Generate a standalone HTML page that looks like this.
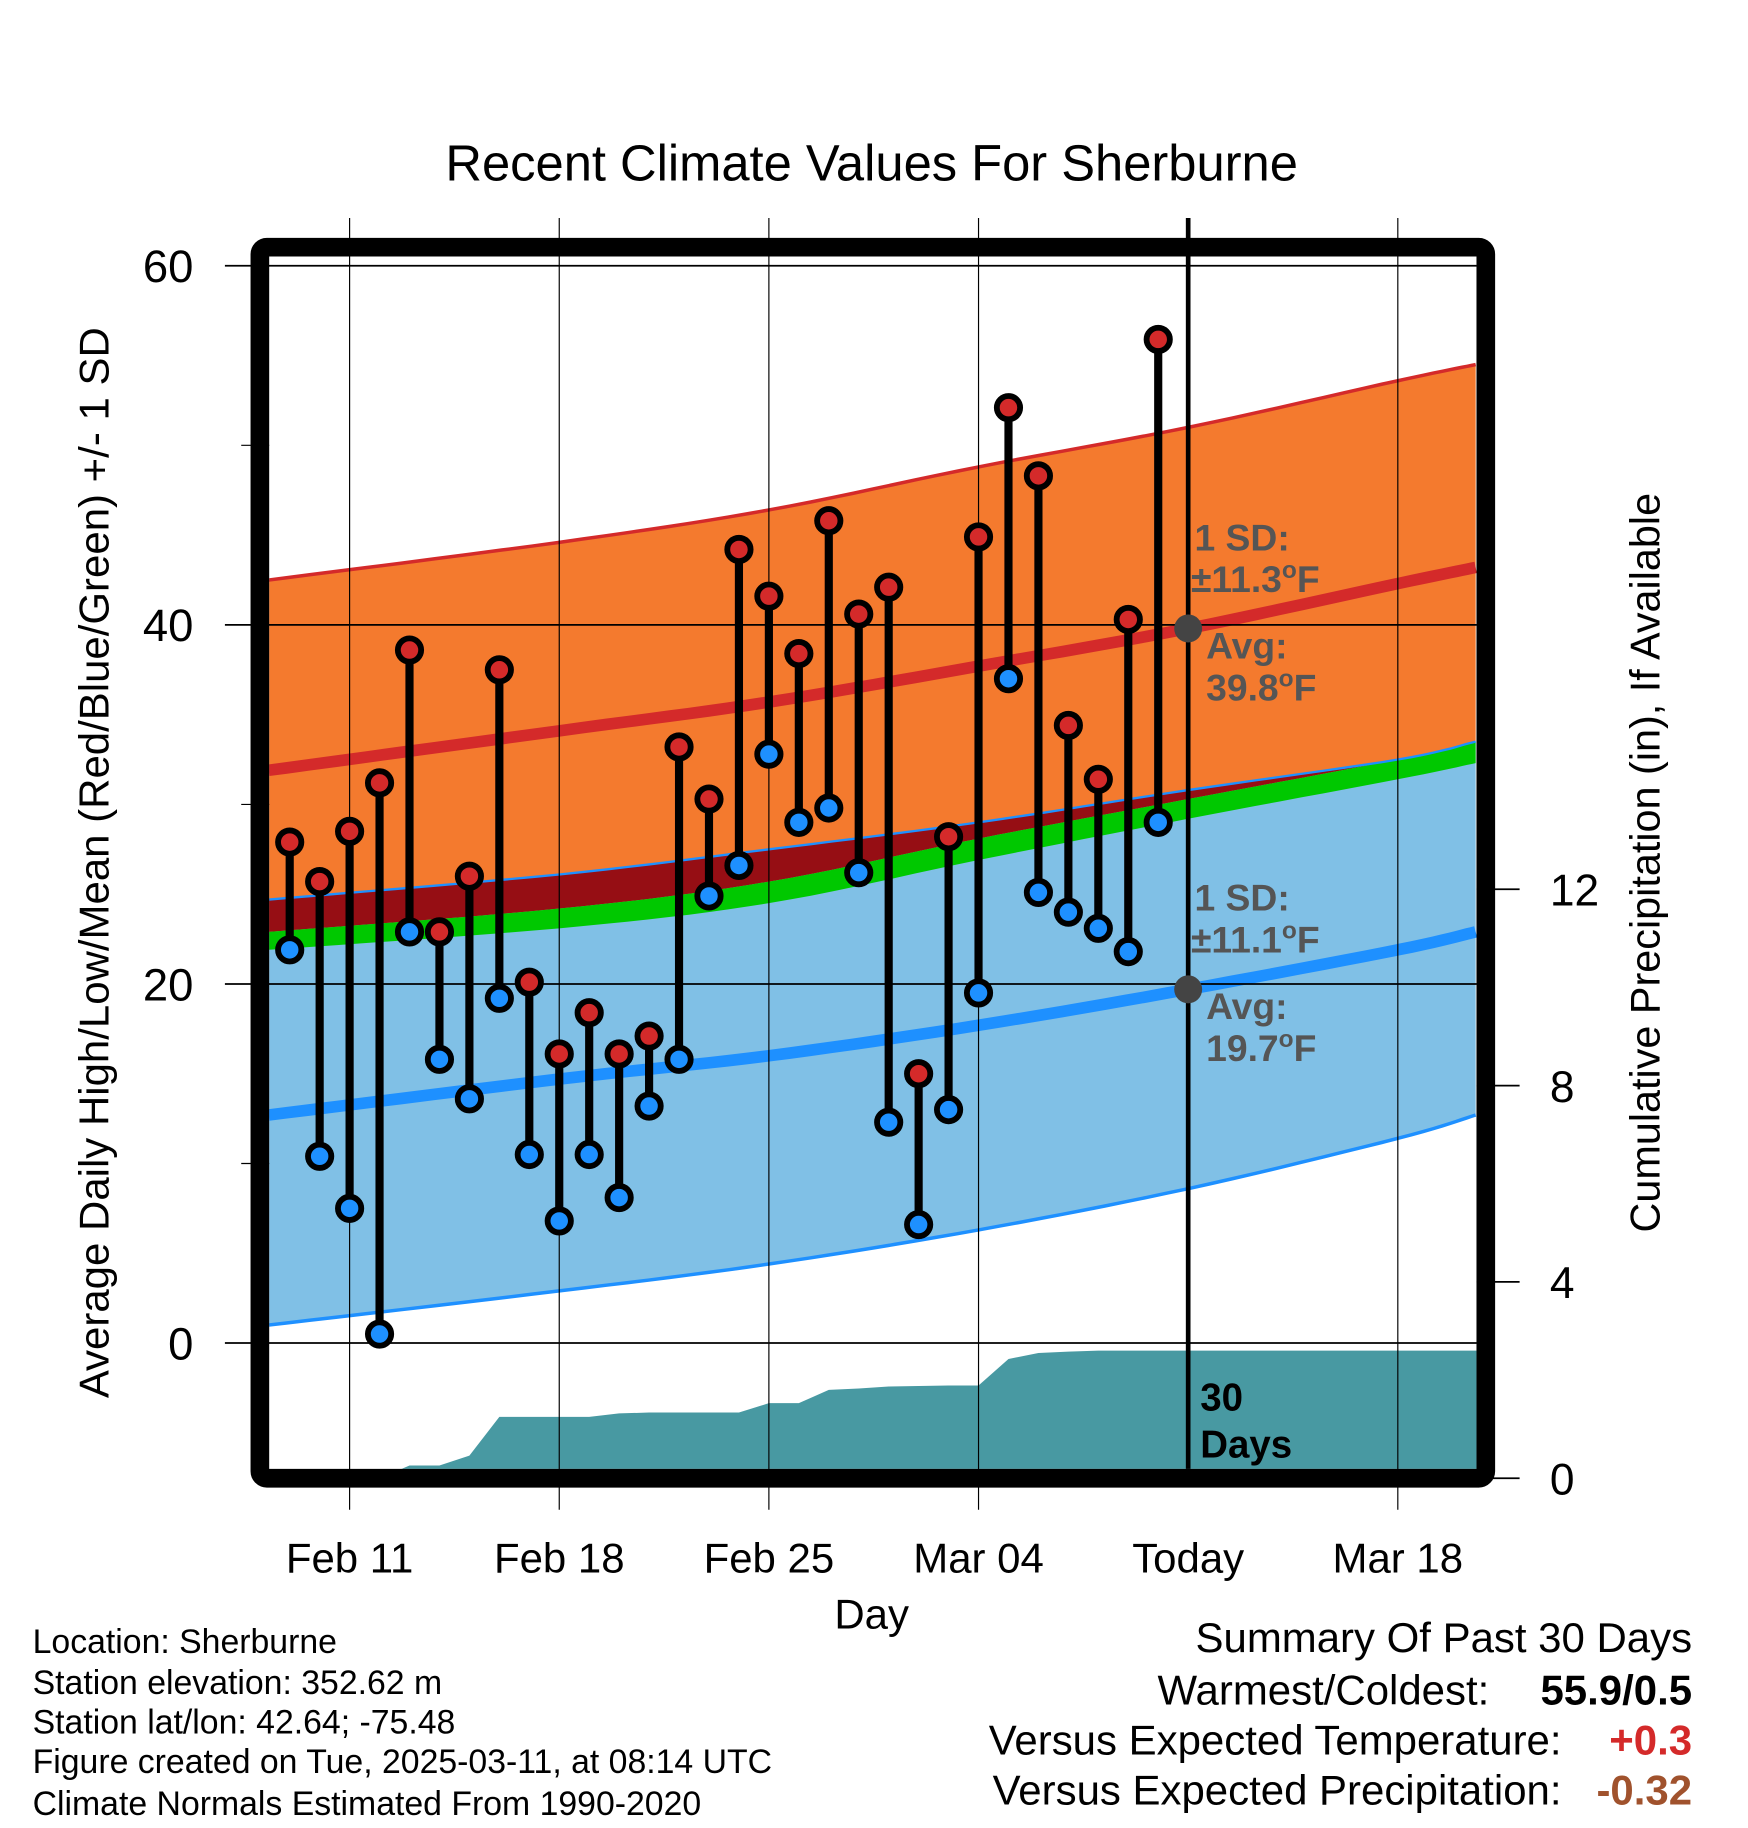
<!DOCTYPE html>
<html><head><meta charset="utf-8"><style>
html,body{margin:0;padding:0;background:#fff;}
svg{display:block;font-family:"Liberation Sans",sans-serif;}
</style></head><body>
<svg id="chart" xmlns="http://www.w3.org/2000/svg" width="1748" height="1828" viewBox="0 0 1500 1568" preserveAspectRatio="none">
<rect x="0" y="0" width="1500" height="1568" fill="#fff"/>
<text x="748" y="155" font-size="43.5" text-anchor="middle">Recent Climate Values For Sherburne</text>
<g id="layers"></g>
<text transform="translate(93,740) rotate(-90)" font-size="36" text-anchor="middle">Average Daily High/Low/Mean (Red/Blue/Green) +/- 1 SD</text>
<text transform="translate(1424,740) rotate(-90)" font-size="35.5" text-anchor="middle">Cumulative Precipitation (in), If Available</text>
<text x="748" y="1397" font-size="36" text-anchor="middle">Day</text>
<g font-size="29">
<text x="28" y="1418">Location: Sherburne</text>
<text x="28" y="1453">Station elevation: 352.62 m</text>
<text x="28" y="1487">Station lat/lon: 42.64; -75.48</text>
<text x="28" y="1521">Figure created on Tue, 2025-03-11, at 08:14 UTC</text>
<text x="28" y="1557">Climate Normals Estimated From 1990-2020</text>
</g>
<g font-size="36" text-anchor="end">
<text x="1452" y="1417">Summary Of Past 30 Days</text>
<text x="1278" y="1462">Warmest/Coldest:</text>
<text x="1452" y="1462" font-weight="bold">55.9/0.5</text>
<text x="1340" y="1505">Versus Expected Temperature:</text>
<text x="1452" y="1505" font-weight="bold" fill="#d42a2a">+0.3</text>
<text x="1340" y="1548">Versus Expected Precipitation:</text>
<text x="1452" y="1548" font-weight="bold" fill="#a0522d">-0.32</text>
</g>
</svg>
<script>
// day offsets relative to Feb 11 (0) ; observations Feb 9 .. Mar 10
const obsDays = [-2,-1,0,1,2,3,4,5,6,7,8,9,10,11,12,13,14,15,16,17,18,19,20,21,22,23,24,25,26,27];
const highs = [27.9,25.7,28.5,31.2,38.6,22.9,26.0,37.5,20.1,16.1,18.4,16.1,17.1,33.2,30.3,44.2,41.6,38.4,45.8,40.6,42.1,15.0,28.2,44.9,52.1,48.3,34.4,31.4,40.3,55.9];
const lows = [21.9,10.4,7.5,0.5,22.9,15.8,13.6,19.2,10.5,6.8,10.5,8.1,13.2,15.8,24.9,26.6,32.8,29.0,29.8,26.2,12.3,6.6,13.0,19.5,37.0,25.1,24.0,23.1,21.8,29.0];
const precip = [0,0,0,0,0.26,0.26,0.46,1.25,1.25,1.25,1.25,1.32,1.34,1.34,1.34,1.34,1.53,1.53,1.80,1.83,1.87,1.88,1.89,1.89,2.43,2.55,2.58,2.60,2.60,2.60];
// normals
const normDays = [-2.7,7,14,21,28,35,37.6];
const normUpper = [42.5,44.6,46.4,48.8,51.0,53.6,54.5];
const normAvgHi = [31.9,34.1,35.7,37.7,39.8,42.3,43.2];
const normLoPlus = [24.7,26.1,27.5,29.0,30.8,32.5,33.5];
const normMeanTop = [22.9,24.2,25.7,28.1,30.3,32.5,33.5];
const normMeanBot = [21.9,23.1,24.5,26.9,29.2,31.4,32.3];
const normAvgLo = [12.7,14.7,16.0,17.7,19.7,21.9,22.9];
const normLoMinus = [1.0,2.9,4.4,6.3,8.6,11.4,12.7];
const xTickDays = [0,7,14,21,28,35];
const xTickLabels = ["Feb 11","Feb 18","Feb 25","Mar 04","Today","Mar 18"];
const yTicks = [0,20,40,60];
const yMinor = [10,30,50];
const y2Ticks = [0,4,8,12];
const todayDay = 28;

const NS="http://www.w3.org/2000/svg";
const X = d => 300 + d*25.7;
const Y = v => 1152 - v*15.4;
const Y2 = p => 1268 - p*42.1;
const PL=231, PR=1267, PT=220, PB=1260;
const g = document.getElementById('layers');
function mk(tag, attrs, parent){const e=document.createElementNS(NS,tag);for(const k in attrs)e.setAttribute(k,attrs[k]);(parent||g).appendChild(e);return e;}

const defs=mk('defs',{});
const cp=mk('clipPath',{id:'pc'},defs);
mk('rect',{x:PL,y:PT,width:PR-PL,height:PB-PT},cp);

function curvePts(days, vals){
  const pts=days.map((d,i)=>[X(d),Y(vals[i])]);
  const out=[];
  for(let i=0;i<pts.length-1;i++){
    const p0=pts[Math.max(0,i-1)],p1=pts[i],p2=pts[i+1],p3=pts[Math.min(pts.length-1,i+2)];
    for(let t=0;t<1;t+=0.1){
      const t2=t*t,t3=t2*t;
      const f=(a,b,c,d)=>0.5*((2*b)+(-a+c)*t+(2*a-5*b+4*c-d)*t2+(-a+3*b-3*c+d)*t3);
      out.push([f(p0[0],p1[0],p2[0],p3[0]),f(p0[1],p1[1],p2[1],p3[1])]);
    }
  }
  out.push(pts[pts.length-1]);
  return out;
}
const ps = a => a.map(p=>p[0].toFixed(1)+','+p[1].toFixed(1)).join(' ');
function band(top,bot,fill,name){
  const a=curvePts(normDays,top), b=curvePts(normDays,bot).reverse();
  const e=mk('polygon',{points:ps(a.concat(b)),fill:fill,'clip-path':'url(#pc)'});
  
  
}
function line(vals,color,w,name){
  const e=mk('polyline',{points:ps(curvePts(normDays,vals)),fill:'none',stroke:color,'stroke-width':w,'clip-path':'url(#pc)'});
  
  
}
band(normLoPlus,normLoMinus,'#80c0e6','low-sd-band');
band(normUpper,normMeanTop,'#f47a2e','high-sd-band');
band(normLoPlus,normMeanTop,'#960e14','overlap-band');
band(normMeanTop,normMeanBot,'#00c800','mean-band');
line(normUpper,'#d42a2a',3,'high-upper-line');
line(normLoPlus,'#1e90ff',2,'low-upper-line');
line(normLoMinus,'#1e90ff',3,'low-lower-line');
line(normAvgHi,'#d42a2a',10,'avg-high-line');
line(normAvgLo,'#1e90ff',10,'avg-low-line');

{
  const pts=[[X(obsDays[0]),PB+20]];
  obsDays.forEach((d,i)=>pts.push([X(d),Y2(precip[i])]));
  pts.push([PR,Y2(precip[precip.length-1])]);
  pts.push([PR,PB+20]);
  const e=mk('polygon',{points:ps(pts),fill:'#4899a2','clip-path':'url(#pc)'});
  
  
}

xTickDays.forEach((d,i)=>{
  const e=mk('line',{x1:X(d),x2:X(d),y1:187,y2:1295,stroke:'#000','stroke-width':d===todayDay?0:1});
  
  
  const t=mk('text',{x:X(d),y:1349,'font-size':36,'text-anchor':'middle'});
  t.textContent=xTickLabels[i];
  
  
});
yTicks.forEach(v=>{
  const e=mk('line',{x1:193,x2:PR,y1:Y(v),y2:Y(v),stroke:'#000','stroke-width':1.5});
  
  
  const t=mk('text',{x:166,y:Y(v)+14,'font-size':39,'text-anchor':'end'});
  t.textContent=v;
  
  
});
yMinor.forEach(v=>{
  const e=mk('line',{x1:207,x2:PL,y1:Y(v),y2:Y(v),stroke:'#000','stroke-width':1});
  
  
});
y2Ticks.forEach(p=>{
  const e=mk('line',{x1:1267,x2:1304,y1:Y2(p),y2:Y2(p),stroke:'#000','stroke-width':1.5});
  
  
  const t=mk('text',{x:1330,y:Y2(p)+14,'font-size':38});
  t.textContent=p;
  
  
});

{
  const e=mk('line',{x1:X(todayDay),x2:X(todayDay),y1:187,y2:PB,stroke:'#000','stroke-width':4});
  
  
}

obsDays.forEach((d,i)=>{
  const x=X(d);
  const s=mk('line',{x1:x,x2:x,y1:Y(highs[i]),y2:Y(lows[i]),stroke:'#000','stroke-width':7});
  
  
  const h=mk('circle',{cx:x,cy:Y(highs[i]),r:10,fill:'#d42a2a',stroke:'#000','stroke-width':5});
  
  
  const l=mk('circle',{cx:x,cy:Y(lows[i]),r:10,fill:'#1e90ff',stroke:'#000','stroke-width':5});
  
  
});

function ann(y0,lines,name){
  const grp=mk('g',{'font-size':32,'font-weight':'bold',fill:'#555'});
  
  
  lines.forEach(l=>{const t=mk('text',{x:l[0],y:y0+l[1]},grp);t.innerHTML=l[2];});
}
{
  const a=mk('circle',{cx:X(todayDay),cy:Y(39.8),r:12,fill:'#444'});
  
  
  const b=mk('circle',{cx:X(todayDay),cy:Y(19.7),r:12,fill:'#444'});
  
  
}
ann(0,[[1025,472,'1 SD:'],[1022,508,'±11.3<tspan dy="-12" font-size="21">o</tspan><tspan dy="12">F</tspan>'],[1035,565,'Avg:'],[1035,601,'39.8<tspan dy="-12" font-size="21">o</tspan><tspan dy="12">F</tspan>']],'high-normal-annotation');
ann(0,[[1025,781,'1 SD:'],[1022,817,'±11.1<tspan dy="-12" font-size="21">o</tspan><tspan dy="12">F</tspan>'],[1035,874,'Avg:'],[1035,910,'19.7<tspan dy="-12" font-size="21">o</tspan><tspan dy="12">F</tspan>']],'low-normal-annotation');
{
  const grp=mk('g',{'font-size':33,'font-weight':'bold',fill:'#000'});
  
  
  const t1=mk('text',{x:1030,y:1210},grp);t1.textContent='30';
  const t2=mk('text',{x:1030,y:1250},grp);t2.textContent='Days';
}

{
  const f=mk('rect',{x:223,y:212,width:1052,height:1056,rx:6,fill:'none',stroke:'#000','stroke-width':16});
  
  
}
</script>
</body></html>
